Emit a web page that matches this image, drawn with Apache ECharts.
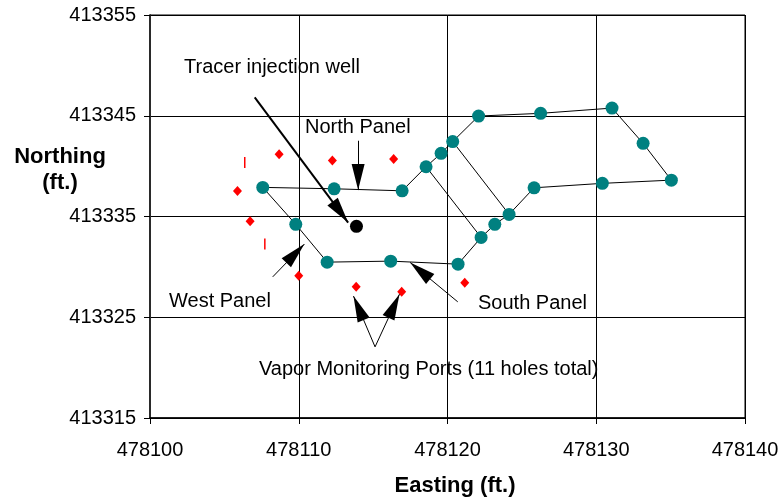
<!DOCTYPE html>
<html>
<head>
<meta charset="utf-8">
<script src="https://cdn.jsdelivr.net/npm/echarts@6/dist/echarts.min.js"></script>
<style>
html,body{margin:0;padding:0;background:#fff;}
#chart{width:783px;height:504px;}
</style>
</head>
<body>
<div id="chart"></div>
<script>
// Axis ticks
var xTicks = [478100, 478110, 478120, 478130, 478140];
var yTicks = [413315, 413325, 413335, 413345, 413355];

// Extraction wells, listed in the order the piping loop connects them
var wellLoop = [
  [478107.58, 413337.89],
  [478112.38, 413337.75],
  [478116.95, 413337.55],
  [478118.56, 413339.94],
  [478119.57, 413341.27],
  [478120.35, 413342.44],
  [478122.09, 413344.97],
  [478126.26, 413345.24],
  [478131.06, 413345.76],
  [478133.15, 413342.26],
  [478135.05, 413338.61],
  [478130.41, 413338.29],
  [478125.82, 413337.85],
  [478124.14, 413335.21],
  [478123.18, 413334.22],
  [478122.26, 413332.92],
  [478120.71, 413330.27],
  [478116.18, 413330.57],
  [478111.91, 413330.47],
  [478109.80, 413334.22],
  [478107.58, 413337.89]
];
// Cross connections
var crossLineA = [[478118.56, 413339.94], [478122.26, 413332.92]];
var crossLineB = [[478120.35, 413342.44], [478124.14, 413335.21]];

// Tracer injection well
var tracerWell = [[478113.88, 413334.02]];

// Vapor monitoring ports (diamonds)
var vaporPorts = [
  [478108.68, 413341.17],
  [478112.26, 413340.57],
  [478116.38, 413340.70],
  [478105.88, 413337.52],
  [478106.73, 413334.54],
  [478110.00, 413329.11],
  [478113.86, 413328.02],
  [478116.92, 413327.52],
  [478121.16, 413328.42]
];
// Vapor monitoring ports drawn edge-on (thin marks)
var vaporPortsThin = [
  [478106.37, 413340.37],
  [478107.72, 413332.26]
];

// Annotation arrows: [from, to]
var arrowTracer = [[478107.04, 413346.83], [478113.32, 413334.40]];
var arrowNorth  = [[478113.99, 413342.52], [478113.99, 413337.62]];
var arrowWest   = [[478108.25, 413329.01], [478110.38, 413332.26]];
var arrowSouth  = [[478120.69, 413326.53], [478117.49, 413330.44]];
var arrowVaporA = [[478115.13, 413322.06], [478113.68, 413327.10]];
var arrowVaporB = [[478115.13, 413322.06], [478116.77, 413327.29]];

var FONT = 'Liberation Sans, Arial, sans-serif';

function arrowPair(a, w) {
  return [
    {coord: a[0], symbol: 'none', lineStyle: {width: w}},
    {coord: a[1], symbol: 'triangle', symbolOffset: [0, 13]}
  ];
}

var chart = echarts.init(document.getElementById('chart'), null, {renderer: 'canvas'});
chart.setOption({
  animation: false,
  backgroundColor: '#ffffff',
  grid: {left: 150, right: 38, top: 15, bottom: 86, containLabel: false},
  xAxis: {
    type: 'value',
    min: xTicks[0], max: xTicks[xTicks.length - 1],
    interval: xTicks[1] - xTicks[0],
    axisLine: {show: true, onZero: false, lineStyle: {color: '#000', width: 1.5}},
    axisTick: {show: true, inside: false, length: 6, lineStyle: {color: '#000'}},
    axisLabel: {color: '#000', fontFamily: FONT, fontSize: 20, margin: 22,
      formatter: function (v) { return String(v); }},
    splitLine: {show: true, lineStyle: {color: '#000', width: 1}}
  },
  yAxis: {
    type: 'value',
    min: yTicks[0], max: yTicks[yTicks.length - 1],
    interval: yTicks[1] - yTicks[0],
    axisLine: {show: true, onZero: false, lineStyle: {color: '#555', width: 2}},
    axisTick: {show: true, inside: false, length: 6, lineStyle: {color: '#000'}},
    axisLabel: {color: '#000', fontFamily: FONT, fontSize: 20, margin: 14,
      formatter: function (v) { return String(v); }},
    splitLine: {show: true, lineStyle: {color: '#000', width: 1}}
  },
  graphic: [
    {type: 'rect', shape: {x: 150, y: 15, width: 595, height: 403}, silent: true,
      style: {fill: 'none', stroke: '#000', lineWidth: 1}, z: 1},
    {type: 'text', x: 60, y: 157, style: {text: 'Northing', font: 'bold 22px ' + FONT, fill: '#000', textAlign: 'center', textVerticalAlign: 'middle'}},
    {type: 'text', x: 60, y: 183, style: {text: '(ft.)', font: 'bold 22px ' + FONT, fill: '#000', textAlign: 'center', textVerticalAlign: 'middle'}},
    {type: 'text', x: 455, y: 486, style: {text: 'Easting (ft.)', font: 'bold 22px ' + FONT, fill: '#000', textAlign: 'center', textVerticalAlign: 'middle'}},
    {type: 'text', x: 184, y: 67, style: {text: 'Tracer injection well', font: '20px ' + FONT, fill: '#000', textAlign: 'left', textVerticalAlign: 'middle'}, z: 10},
    {type: 'text', x: 305, y: 127, style: {text: 'North Panel', font: '20px ' + FONT, fill: '#000', textAlign: 'left', textVerticalAlign: 'middle'}, z: 10},
    {type: 'text', x: 169, y: 301, style: {text: 'West Panel', font: '20px ' + FONT, fill: '#000', textAlign: 'left', textVerticalAlign: 'middle'}, z: 10},
    {type: 'text', x: 478, y: 303, style: {text: 'South Panel', font: '20px ' + FONT, fill: '#000', textAlign: 'left', textVerticalAlign: 'middle'}, z: 10},
    {type: 'text', x: 259, y: 369, style: {text: 'Vapor Monitoring Ports (11 holes total)', font: '20px ' + FONT, fill: '#000', textAlign: 'left', textVerticalAlign: 'middle'}, z: 10}
  ],
  series: [
    {type: 'line', data: wellLoop, showSymbol: false, lineStyle: {color: '#000', width: 1}, z: 3,
      markLine: {
        silent: true, animation: false,
        symbolSize: [13, 26],
        lineStyle: {color: '#000', width: 1, type: 'solid', opacity: 1},
        itemStyle: {color: '#000', opacity: 1},
        label: {show: false},
        data: [
          arrowPair(arrowTracer, 2),
          arrowPair(arrowNorth, 1),
          arrowPair(arrowWest, 1),
          arrowPair(arrowSouth, 1),
          arrowPair(arrowVaporA, 1),
          arrowPair(arrowVaporB, 1)
        ]
      }
    },
    {type: 'line', data: crossLineA, showSymbol: false, lineStyle: {color: '#000', width: 1}, z: 3},
    {type: 'line', data: crossLineB, showSymbol: false, lineStyle: {color: '#000', width: 1}, z: 3},
    {type: 'scatter', data: wellLoop.slice(0, wellLoop.length - 1), symbol: 'circle', symbolSize: 13,
      itemStyle: {color: '#008080', opacity: 1}, z: 4},
    {type: 'scatter', data: tracerWell, symbol: 'circle', symbolSize: 13, itemStyle: {color: '#000', opacity: 1}, z: 4},
    {type: 'scatter', data: vaporPorts, symbol: 'diamond', symbolSize: [9, 10], itemStyle: {color: '#ff0000', opacity: 1}, z: 4},
    {type: 'scatter', data: vaporPortsThin, symbol: 'rect', symbolSize: [1.5, 11], itemStyle: {color: '#ff0000', opacity: 1}, z: 4}
  ]
});
</script>
</body>
</html>
